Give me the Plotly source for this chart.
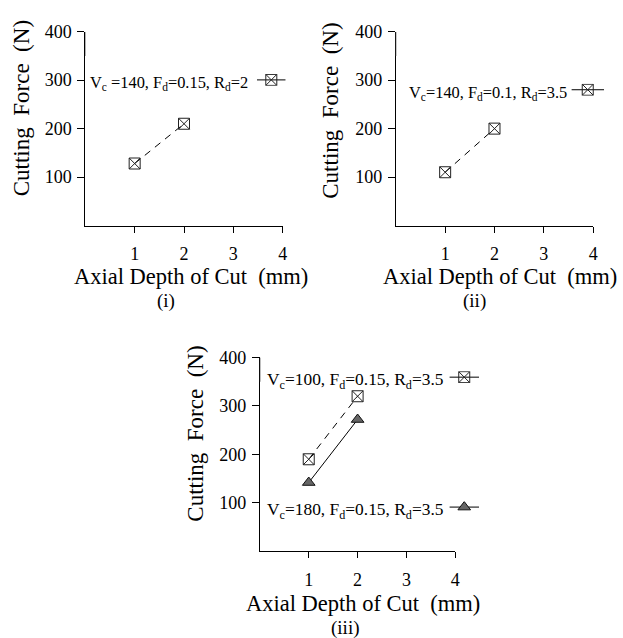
import plotly.graph_objects as go

# ---------------- data ----------------
depth = [1, 2]
force_i = [128, 210]          # Vc=140, Fd=0.15, Rd=2
force_ii = [110, 200]         # Vc=140, Fd=0.1, Rd=3.5
force_iii_a = [190, 320]      # Vc=100, Fd=0.15, Rd=3.5
force_iii_b = [142, 272]      # Vc=180, Fd=0.15, Rd=3.5
x_ticks = [1, 2, 3, 4]
y_ticks = [100, 200, 300, 400]
x_range = [0, 4]
y_range = [0, 400]
label_i = "V<sub>c</sub> =140, F<sub>d</sub>=0.15, R<sub>d</sub>=2"
label_ii = "V<sub>c</sub>=140, F<sub>d</sub>=0.1, R<sub>d</sub>=3.5"
label_iii_a = "V<sub>c</sub>=100, F<sub>d</sub>=0.15, R<sub>d</sub>=3.5"
label_iii_b = "V<sub>c</sub>=180, F<sub>d</sub>=0.15, R<sub>d</sub>=3.5"
x_title = "Axial Depth of Cut  (mm)"
y_title = "Cutting  Force  (N)"
panel_labels = ["(i)", "(ii)", "(iii)"]

W, H = 623, 638
FONT = "Liberation Serif"


def px(x):
    return x / W


def py(y):
    return 1 - y / H


fig = go.Figure()

sq = dict(symbol="square-x-open", size=11, color="#222", line=dict(width=1, color="#222"))
tri = dict(symbol="triangle-up", size=11, color="#666", line=dict(width=1, color="#111"))
dash = "7px,6px"

# panel traces
fig.add_trace(go.Scatter(x=depth, y=force_i, mode="lines+markers", marker=sq,
                         line=dict(color="black", width=1, dash=dash), xaxis="x", yaxis="y"))
fig.add_trace(go.Scatter(x=depth, y=force_ii, mode="lines+markers", marker=sq,
                         line=dict(color="black", width=1, dash=dash), xaxis="x2", yaxis="y2"))
fig.add_trace(go.Scatter(x=depth, y=force_iii_a, mode="lines+markers", marker=sq,
                         line=dict(color="black", width=1, dash=dash), xaxis="x3", yaxis="y3"))
fig.add_trace(go.Scatter(x=depth, y=force_iii_b, mode="lines+markers", marker=tri,
                         line=dict(color="black", width=1), xaxis="x3", yaxis="y3"))

# legend keys (line with marker in middle) on small hidden axes
key_specs = [  # (axis idx, x0, x1, yc, marker)
    (4, 259, 288, 71, sq),
    (5, 576, 609, 81, sq),
    (6, 453, 483, 373, sq),
    (7, 453, 483, 505, tri),
]
for idx, x0, x1, yc, mk in key_specs:
    fig.add_trace(go.Scatter(x=[0, 0.5, 1], y=[0, 0, 0], mode="lines",
                             line=dict(color="black", width=1),
                             xaxis=f"x{idx}", yaxis=f"y{idx}"))
    fig.add_trace(go.Scatter(x=[0.5], y=[0], mode="markers", marker=mk,
                             xaxis=f"x{idx}", yaxis=f"y{idx}"))
    fig.layout[f"xaxis{idx}"] = dict(domain=[px(x0), px(x1)], range=[0, 1], visible=False,
                                     anchor=f"y{idx}", fixedrange=True)
    fig.layout[f"yaxis{idx}"] = dict(domain=[py(yc + 6), py(yc - 6)], range=[-1, 1], visible=False,
                                     anchor=f"x{idx}", fixedrange=True)

axis_common = dict(showline=True, linecolor="black", linewidth=1, ticks="outside",
                   tickwidth=1, tickcolor="black", showgrid=False, zeroline=False,
                   tickfont=dict(family=FONT, size=18, color="black"))

panels = [
    # (suffix, x0, x1, ytop, ybottom)
    ("", 86, 285, 22, 219),
    ("2", 399, 598, 22, 219),
    ("3", 262, 459, 353, 550),
]
shapes = []
for suf, x0, x1, yt, yb in panels:
    fig.layout["xaxis" + suf] = dict(axis_common, domain=[px(x0), px(x1)], range=x_range,
                                     tickvals=x_ticks, anchor="y" + suf, ticklen=6,
                                     ticklabelstandoff=6)
    fig.layout["yaxis" + suf] = dict(axis_common, domain=[py(yb), py(yt)], range=y_range,
                                     tickvals=y_ticks, anchor="x" + suf, ticklen=7,
                                     ticklabelstandoff=2)
    # lighter top segment of the y axis line, as in the original scan
    shapes.append(dict(type="line", xref="x" + suf, yref="y" + suf, x0=0, x1=0,
                       y0=350, y1=400, line=dict(color="#8a8a8a", width=1.3), layer="above"))

annotations = []


def ann(text, x, y, size, xanchor="center", angle=0):
    annotations.append(dict(text=text, x=px(x), y=py(y), xref="paper", yref="paper",
                            showarrow=False, xanchor=xanchor, yanchor="middle",
                            textangle=angle,
                            font=dict(family=FONT, size=size, color="black")))


# axis titles
ann(x_title, 193, 271, 22.5)
ann(x_title, 504, 271, 22.5)
ann(x_title, 366, 603, 22.5)
ann(y_title, 22, 100, 23, angle=-90)
ann(y_title, 333, 102, 23, angle=-90)
ann(y_title, 197, 430, 23, angle=-90)
# panel labels
ann(panel_labels[0], 167, 296, 19)
ann(panel_labels[1], 478, 296, 19)
ann(panel_labels[2], 348, 628, 19)
# legend texts
ann(label_i, 252, 74, 16.4, xanchor="right")
ann(label_ii, 574, 84, 16.4, xanchor="right")
ann(label_iii_a, 450, 376, 17.4, xanchor="right")
ann(label_iii_b, 450, 508, 17.4, xanchor="right")

fig.update_layout(
    width=W, height=H, margin=dict(l=0, r=0, t=0, b=0),
    paper_bgcolor="white", plot_bgcolor="white", showlegend=False,
    annotations=annotations, shapes=shapes,
    font=dict(family=FONT, color="black"),
)

fig.write_html("out.html", config={"displayModeBar": False},
               post_script="document.body.style.margin='0';")
